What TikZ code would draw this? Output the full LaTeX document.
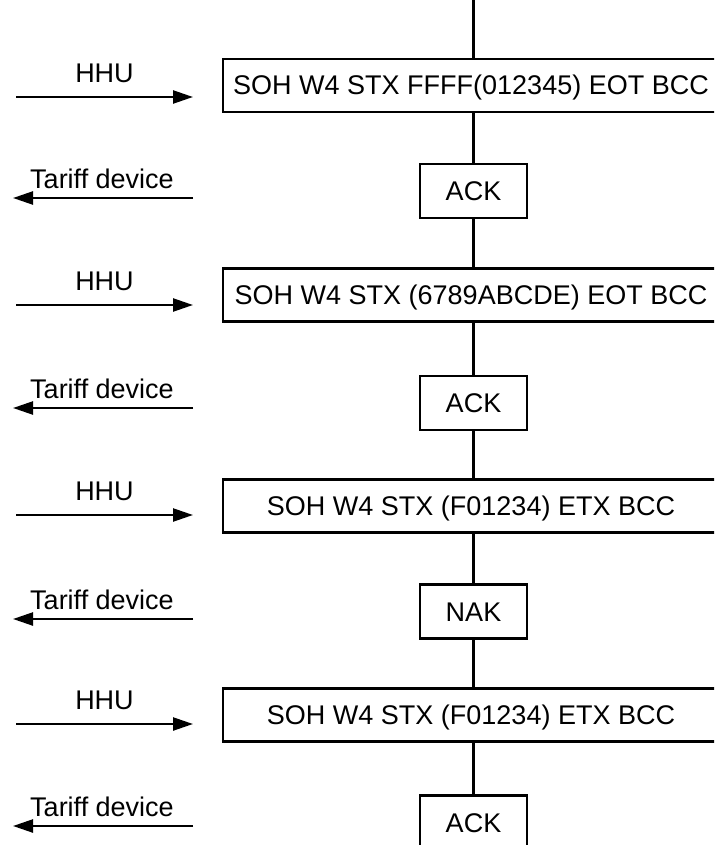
\documentclass[tikz,border=0pt]{standalone}
\usepackage{fontspec}
\setmainfont{Liberation Sans}
\usetikzlibrary{
    arrows.meta,
    positioning
}
\tikzset{
    frame/.style={draw, line width=2.6pt, minimum width=496pt, minimum height=53pt,
        inner sep=0pt, text height=19pt, text depth=0pt,
        font=\fontsize{27}{31}\selectfont},
    reply/.style={draw, line width=2.6pt, minimum width=107pt, minimum height=54pt,
        inner sep=0pt, text height=19pt, text depth=0pt,
        font=\fontsize{27}{31}\selectfont},
    msg/.style={line width=2.4pt, -{Triangle[length=20pt,width=13pt]}},
    who/.style={font=\fontsize{27}{31}\selectfont, inner sep=0pt}
}

\begin{document}
\begin{tikzpicture}[x=1pt, y=-1pt]
    \useasboundingbox (0,0) rectangle (714,845);
    \clip (0,0) rectangle (714,845);
    % telegrams and replies
    \node[frame] (f1) at (471,85.5) {SOH W4 STX FFFF(012345) EOT BCC};
    \node[reply] (r1) at (473.5,191) {ACK};
    \node[frame] (f2) at (471,295) {SOH W4 STX (6789ABCDE) EOT BCC};
    \node[reply] (r2) at (473.5,403) {ACK};
    \node[frame] (f3) at (471,506) {SOH W4 STX (F01234) ETX BCC};
    \node[reply] (r3) at (473.5,611.5) {NAK};
    \node[frame] (f4) at (471,715) {SOH W4 STX (F01234) ETX BCC};
    \node[reply] (r4) at (473.5,822.5) {ACK};
    % time line
    \coordinate (top) at (473.5,0);
    \draw[line width=2.6pt] (top) -- (top |- f1.north);
    \draw[line width=2.6pt] (r1.north) -- (r1.north |- f1.south);
    \draw[line width=2.6pt] (r1.south) -- (r1.south |- f2.north);
    \draw[line width=2.6pt] (r2.north) -- (r2.north |- f2.south);
    \draw[line width=2.6pt] (r2.south) -- (r2.south |- f3.north);
    \draw[line width=2.6pt] (r3.north) -- (r3.north |- f3.south);
    \draw[line width=2.6pt] (r3.south) -- (r3.south |- f4.north);
    \draw[line width=2.6pt] (r4.north) -- (r4.north |- f4.south);
    % directions
    \coordinate (h1a) at (16,97);   \coordinate (h1b) at (193,97);
    \coordinate (t1a) at (193,198); \coordinate (t1b) at (13,198);
    \coordinate (h2a) at (16,305);  \coordinate (h2b) at (193,305);
    \coordinate (t2a) at (193,408); \coordinate (t2b) at (13,408);
    \coordinate (h3a) at (16,515);  \coordinate (h3b) at (193,515);
    \coordinate (t3a) at (193,619); \coordinate (t3b) at (13,619);
    \coordinate (h4a) at (16,724);  \coordinate (h4b) at (193,724);
    \coordinate (t4a) at (193,826); \coordinate (t4b) at (13,826);
    \draw[msg] (h1a) -- (h1b) node[who, midway, above=13pt] {HHU};
    \draw[msg] (t1a) -- (t1b) node[who, midway, above=8pt, xshift=-1pt] {Tariff device};
    \draw[msg] (h2a) -- (h2b) node[who, midway, above=13pt] {HHU};
    \draw[msg] (t2a) -- (t2b) node[who, midway, above=8pt, xshift=-1pt] {Tariff device};
    \draw[msg] (h3a) -- (h3b) node[who, midway, above=13pt] {HHU};
    \draw[msg] (t3a) -- (t3b) node[who, midway, above=8pt, xshift=-1pt] {Tariff device};
    \draw[msg] (h4a) -- (h4b) node[who, midway, above=13pt] {HHU};
    \draw[msg] (t4a) -- (t4b) node[who, midway, above=8pt, xshift=-1pt] {Tariff device};
\end{tikzpicture}
\end{document}
